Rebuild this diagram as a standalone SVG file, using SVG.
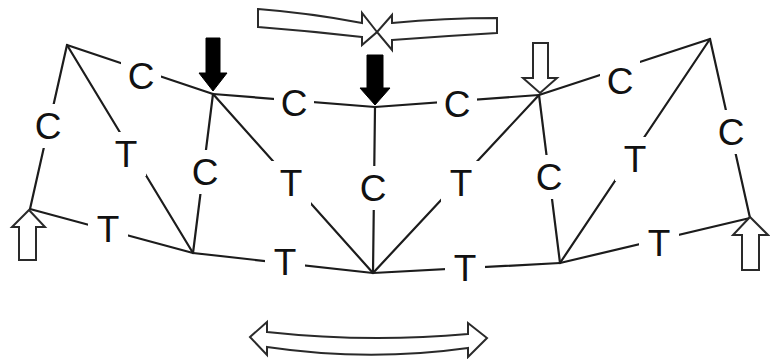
<svg xmlns="http://www.w3.org/2000/svg" width="770" height="359" viewBox="0 0 770 359">
  <style>
    .bar { stroke: #1c1c1c; stroke-width: 2.2; fill: none; stroke-linecap: round; }
    .lbl { font-family: "Liberation Sans", Arial, sans-serif; font-size: 37px; fill: #111; text-anchor: middle; }
    .gap { fill: #fff; stroke: none; }
    .open { fill: #fff; stroke: #2a2a2a; stroke-width: 2; stroke-linejoin: miter; }
    .solid { fill: #000; stroke: #000; stroke-width: 1; }
  </style>
  <rect width="770" height="359" fill="#fff"/>

  <g id="connectors">
    <line class="bar" x1="67" y1="45" x2="213" y2="94"/>
    <line class="bar" x1="213" y1="94" x2="375" y2="107"/>
    <line class="bar" x1="375" y1="107" x2="539" y2="95"/>
    <line class="bar" x1="539" y1="95" x2="710" y2="39"/>
    <line class="bar" x1="67" y1="45" x2="30" y2="209"/>
    <line class="bar" x1="710" y1="39" x2="750" y2="218"/>
    <line class="bar" x1="30" y1="209" x2="193" y2="253"/>
    <line class="bar" x1="193" y1="253" x2="373" y2="273"/>
    <line class="bar" x1="373" y1="273" x2="560" y2="263"/>
    <line class="bar" x1="560" y1="263" x2="750" y2="218"/>
    <line class="bar" x1="67" y1="45" x2="193" y2="253"/>
    <line class="bar" x1="213" y1="94" x2="193" y2="253"/>
    <line class="bar" x1="213" y1="94" x2="373" y2="273"/>
    <line class="bar" x1="375" y1="107" x2="373" y2="273"/>
    <line class="bar" x1="539" y1="95" x2="373" y2="273"/>
    <line class="bar" x1="539" y1="95" x2="560" y2="263"/>
    <line class="bar" x1="710" y1="39" x2="560" y2="263"/>
  </g>

  <g id="labels">
    <rect class="gap" x="121" y="54" width="40" height="44"/>
    <rect class="gap" x="274" y="81" width="40" height="44"/>
    <rect class="gap" x="437" y="82" width="40" height="44"/>
    <rect class="gap" x="600" y="59" width="40" height="44"/>
    <rect class="gap" x="28" y="104" width="40" height="44"/>
    <rect class="gap" x="711" y="110" width="40" height="44"/>
    <rect class="gap" x="185" y="150" width="40" height="44"/>
    <rect class="gap" x="353" y="166" width="40" height="44"/>
    <rect class="gap" x="529" y="155" width="40" height="44"/>
    <rect class="gap" x="106" y="132" width="40" height="44"/>
    <rect class="gap" x="271" y="161" width="40" height="44"/>
    <rect class="gap" x="441" y="161" width="40" height="44"/>
    <rect class="gap" x="615" y="137" width="40" height="44"/>
    <rect class="gap" x="88" y="207" width="40" height="44"/>
    <rect class="gap" x="265" y="240" width="40" height="44"/>
    <rect class="gap" x="445" y="246" width="40" height="44"/>
    <rect class="gap" x="639" y="221" width="40" height="44"/>
    <text class="lbl" x="141" y="89">C</text>
    <text class="lbl" x="294" y="116">C</text>
    <text class="lbl" x="457" y="117">C</text>
    <text class="lbl" x="620" y="94">C</text>
    <text class="lbl" x="48" y="139">C</text>
    <text class="lbl" x="731" y="145">C</text>
    <text class="lbl" x="205" y="185">C</text>
    <text class="lbl" x="373" y="201">C</text>
    <text class="lbl" x="549" y="190">C</text>
    <text class="lbl" x="126" y="167">T</text>
    <text class="lbl" x="291" y="196">T</text>
    <text class="lbl" x="461" y="196">T</text>
    <text class="lbl" x="635" y="172">T</text>
    <text class="lbl" x="108" y="242">T</text>
    <text class="lbl" x="285" y="275">T</text>
    <text class="lbl" x="465" y="281">T</text>
    <text class="lbl" x="659" y="256">T</text>
  </g>

  <g id="node-A"><circle cx="67" cy="45" r="1" fill="#1c1c1c"/></g>
  <g id="node-B">
    <path class="solid" d="M206,38 L220,38 L220,73 L227,73 L213,91 L199,73 L206,73 Z"/>
  </g>
  <g id="node-M">
    <path class="solid" d="M367,55 L383,55 L383,88 L390,88 L375,105 L360,88 L367,88 Z"/>
  </g>
  <g id="node-D">
    <path class="open" d="M533,43 L548,43 L548,78 L557,78 L540,93 L523,78 L533,78 Z"/>
  </g>
  <g id="node-E"><circle cx="710" cy="39" r="1" fill="#1c1c1c"/></g>
  <g id="node-F">
    <path class="open" d="M19,260 L36,260 L36,227 L45,227 L29,210 L12,227 L19,227 Z"/>
  </g>
  <g id="node-G"><circle cx="193" cy="253" r="1" fill="#1c1c1c"/></g>
  <g id="node-H"><circle cx="373" cy="273" r="1" fill="#1c1c1c"/></g>
  <g id="node-I"><circle cx="560" cy="263" r="1" fill="#1c1c1c"/></g>
  <g id="node-J">
    <path class="open" d="M742,270 L759,270 L759,235 L768,235 L750,217 L733,235 L742,235 Z"/>
  </g>

  <g id="compression-top">
    <path class="open" d="M258,9 Q310,13 362,23 L362,13 L377,32 L362,45 L362,37 Q310,31 258,27 Z"/>
    <path class="open" d="M497,18 Q445,18 392,23 L392,15 L377,32 L392,50 L392,40 Q445,36 497,33 Z"/>
  </g>
  <g id="tension-bottom">
    <path class="open" d="M250,337 L267,322 L267,332 Q368,343 468,334 L468,323 L487,338 L468,357 L468,348 Q368,362 267,347 L267,355 Z"/>
  </g>
</svg>
